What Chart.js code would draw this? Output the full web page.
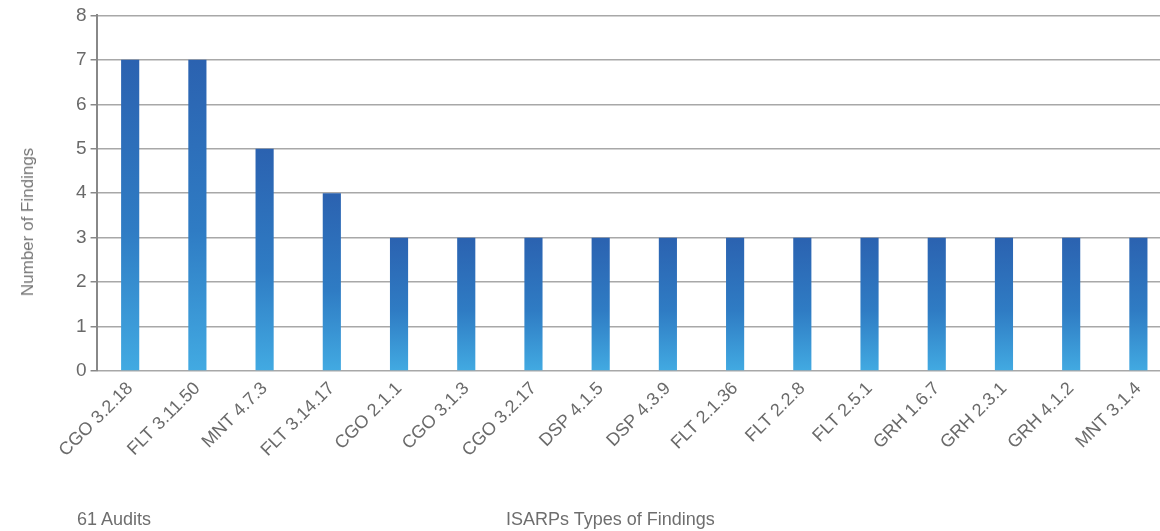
<!DOCTYPE html>
<html>
<head>
<meta charset="utf-8">
<script src="https://cdn.jsdelivr.net/npm/chart.js@4"></script>
<style>
html,body{margin:0;padding:0;background:#fff;overflow:hidden;}
#wrap{position:relative;width:1172px;height:531px;}
.note{position:absolute;font-family:"Liberation Sans",Arial,sans-serif;font-size:18px;color:#6e6e6e;top:509px;white-space:nowrap;}
#ytitle{position:absolute;left:28px;top:222px;transform:translate(-50%,-50%) rotate(-90deg);font-family:"Liberation Sans",Arial,sans-serif;font-size:17px;color:#777;white-space:nowrap;}
</style>
</head>
<body>
<div id="wrap">
<canvas id="findingsChart" width="1172" height="531"></canvas>
<div id="ytitle">Number of Findings</div>
<div class="note" style="left:77px;">61 Audits</div>
<div class="note" style="left:506px;">ISARPs Types of Findings</div>
</div>
<script>
const labels=["CGO 3.2.18","FLT 3.11.50","MNT 4.7.3","FLT 3.14.17","CGO 2.1.1","CGO 3.1.3","CGO 3.2.17","DSP 4.1.5","DSP 4.3.9","FLT 2.1.36","FLT 2.2.8","FLT 2.5.1","GRH 1.6.7","GRH 2.3.1","GRH 4.1.2","MNT 3.1.4"];
const findings=[7,7,5,4,3,3,3,3,3,3,3,3,3,3,3,3];
const yTicks=[0,1,2,3,4,5,6,7,8];

function barGradient(c){
const chart=c.chart;
const y=chart.scales.y;
if(!y||c.type!=="data")return "#2f74bd";
const top=y.getPixelForValue(c.raw);
const bottom=y.getPixelForValue(0);
if(!isFinite(top)||!isFinite(bottom))return "#2f74bd";
const g=chart.ctx.createLinearGradient(0,top,0,bottom);
g.addColorStop(0,"#2b62b0");
g.addColorStop(0.55,"#2f7cc4");
g.addColorStop(1,"#42aae2");
return g;
}

const ctx=document.getElementById("findingsChart");

new Chart(ctx,{
type:"bar",
data:{
labels:labels,
datasets:[{
label:"Findings",
data:findings,
backgroundColor:barGradient,
borderWidth:0,
barPercentage:0.27,
categoryPercentage:1
}]
},
options:{
responsive:false,
animation:false,
layout:{padding:{top:9,left:72,right:0,bottom:0}},
plugins:{legend:{display:false},tooltip:{enabled:false}},
scales:{
x:{
grid:{display:false,drawTicks:false},
border:{display:false},
ticks:{
maxRotation:45,minRotation:45,autoSkip:false,padding:7,
color:"#6a6a6a",
font:{family:"Liberation Sans",size:18}
},
afterFit:function(s){s.height=160;}
},
y:{
min:0,max:8,
afterBuildTicks:function(s){s.ticks=yTicks.map(v=>({value:v}));},
grid:{color:"#a8a8a8",lineWidth:1.5,tickLength:6,tickColor:"#888"},
border:{display:true,color:"#888",width:2},
ticks:{
color:"#6a6a6a",padding:4,
font:{family:"Liberation Sans",size:19}
}
}
}
}
});
</script>
</body>
</html>
